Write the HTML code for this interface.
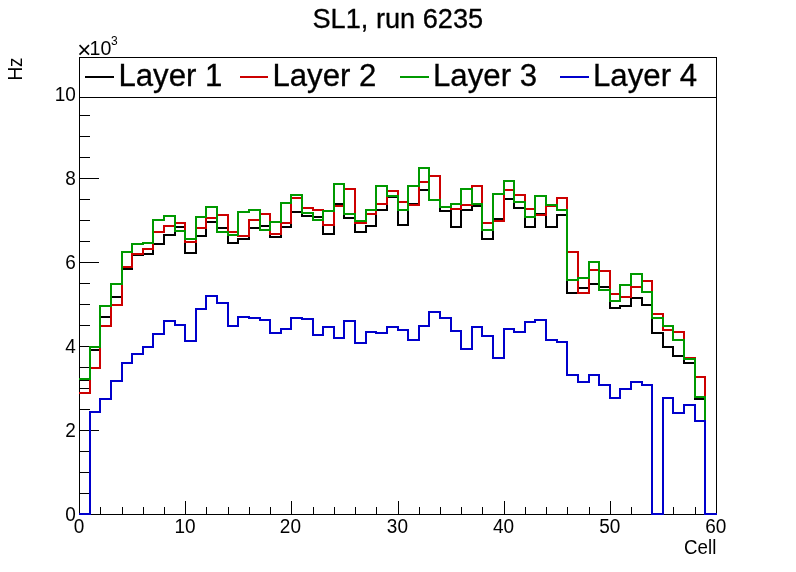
<!DOCTYPE html>
<html lang="en">
<head>
<meta charset="utf-8">
<title>SL1, run 6235</title>
<style>
html,body{margin:0;padding:0;background:#fff;}
body{width:796px;height:572px;overflow:hidden;}
svg{display:block;will-change:transform;}
text{font-family:"Liberation Sans",Arial,Helvetica,sans-serif;fill:#000;}
.h{fill:none;stroke-width:2;stroke-linejoin:miter;stroke-linecap:butt;shape-rendering:crispEdges;}
.ax{stroke:#000;stroke-width:1;fill:none;shape-rendering:crispEdges;}
.lab{font-size:19px;}
.leg{font-size:31.2px;stroke:#000;stroke-width:0.3;}
</style>
</head>
<body>
<svg width="796" height="572" viewBox="0 0 796 572">
<rect x="0" y="0" width="796" height="572" fill="#fff"/>
<rect class="ax" x="79.5" y="57.5" width="637" height="457"/>
<path class="ax" d="M79.5 514.5 V500.5 M100.5 514.5 V506.5 M122.5 514.5 V506.5 M143.5 514.5 V506.5 M164.5 514.5 V506.5 M185.5 514.5 V500.5 M206.5 514.5 V506.5 M228.5 514.5 V506.5 M249.5 514.5 V506.5 M270.5 514.5 V506.5 M291.5 514.5 V500.5 M313.5 514.5 V506.5 M334.5 514.5 V506.5 M355.5 514.5 V506.5 M376.5 514.5 V506.5 M398.5 514.5 V500.5 M419.5 514.5 V506.5 M440.5 514.5 V506.5 M461.5 514.5 V506.5 M482.5 514.5 V506.5 M504.5 514.5 V500.5 M525.5 514.5 V506.5 M546.5 514.5 V506.5 M567.5 514.5 V506.5 M589.5 514.5 V506.5 M610.5 514.5 V500.5 M631.5 514.5 V506.5 M652.5 514.5 V506.5 M673.5 514.5 V506.5 M695.5 514.5 V506.5 M716.5 514.5 V500.5 M79.5 514.5 H98.5 M79.5 493.5 H89.5 M79.5 472.5 H89.5 M79.5 451.5 H89.5 M79.5 430.5 H98.5 M79.5 409.5 H89.5 M79.5 388.5 H89.5 M79.5 367.5 H89.5 M79.5 346.5 H98.5 M79.5 325.5 H89.5 M79.5 304.5 H89.5 M79.5 283.5 H89.5 M79.5 262.5 H98.5 M79.5 241.5 H89.5 M79.5 220.5 H89.5 M79.5 199.5 H89.5 M79.5 178.5 H98.5 M79.5 157.5 H89.5 M79.5 136.5 H89.5 M79.5 115.5 H89.5 M79.5 94.5 H98.5 M79.5 73.5 H89.5"/>
<g class="h">
<path d="M79 380 H90 V350 H100 V317 H111 V297 H122 V269 H132 V255 H143 V254 H153 V244 H164 V235 H175 V227 H185 V253 H196 V236 H206 V222 H217 V228 H228 V243 H238 V239 H249 V228 H260 V226 H270 V237 H281 V227 H291 V212 H302 V216 H313 V217 H323 V234 H334 V204 H344 V218 H355 V232 H366 V226 H376 V210 H387 V197 H398 V225 H408 V204 H419 V190 H429 V200 H440 V211 H451 V227 H461 V210 H472 V206 H482 V239 H493 V219 H504 V199 H514 V208 H525 V227 H535 V214 H546 V227 H557 V215 H567 V293 H578 V288 H589 V284 H599 V287 H610 V308 H620 V306 H631 V298 H642 V305 H652 V333 H663 V347 H673 V356 H684 V363 H695 V399 H705 V514 H716 H717" stroke="#000000"/>
<path d="M79 393 H90 V368 H100 V326 H111 V305 H122 V267 H132 V254 H143 V249 H153 V232 H164 V226 H175 V223 H185 V242 H196 V228 H206 V218 H217 V215 H228 V232 H238 V236 H249 V220 H260 V214 H270 V234 H281 V223 H291 V198 H302 V208 H313 V210 H323 V225 H334 V206 H344 V189 H355 V223 H366 V214 H376 V204 H387 V191 H398 V202 H408 V205 H419 V182 H429 V176 H440 V207 H451 V209 H461 V205 H472 V186 H482 V223 H493 V221 H504 V190 H514 V195 H525 V209 H535 V215 H546 V206 H557 V198 H567 V252 H578 V293 H589 V270 H599 V271 H610 V294 H620 V297 H631 V287 H642 V281 H652 V314 H663 V330 H673 V332 H684 V358 H695 V377 H705 V514 H716 H717" stroke="#cc0000"/>
<path d="M79 379 H90 V347 H100 V306 H111 V284 H122 V252 H132 V244 H143 V243 H153 V220 H164 V216 H175 V231 H185 V239 H196 V217 H206 V207 H217 V232 H228 V235 H238 V212 H249 V210 H260 V230 H270 V222 H281 V203 H291 V195 H302 V213 H313 V220 H323 V211 H334 V184 H344 V214 H355 V221 H366 V210 H376 V186 H387 V196 H398 V210 H408 V186 H419 V168 H429 V200 H440 V207 H451 V204 H461 V189 H472 V204 H482 V230 H493 V194 H504 V181 H514 V202 H525 V217 H535 V196 H546 V205 H557 V210 H567 V280 H578 V278 H589 V262 H599 V290 H610 V301 H620 V285 H631 V274 H642 V292 H652 V318 H663 V326 H673 V340 H684 V359 H695 V397 H705 V514 H716 H717" stroke="#009900"/>
<path d="M79 514 H90 V412 H100 V399 H111 V381 H122 V363 H132 V354 H143 V347 H153 V334 H164 V321 H175 V325 H185 V341 H196 V309 H206 V296 H217 V303 H228 V326 H238 V317 H249 V318 H260 V320 H270 V333 H281 V329 H291 V318 H302 V319 H313 V335 H323 V327 H334 V338 H344 V321 H355 V343 H366 V332 H376 V333 H387 V327 H398 V330 H408 V340 H419 V326 H429 V312 H440 V318 H451 V331 H461 V349 H472 V327 H482 V336 H493 V358 H504 V329 H514 V332 H525 V322 H535 V320 H546 V340 H557 V342 H567 V375 H578 V382 H589 V375 H599 V385 H610 V398 H620 V389 H631 V382 H642 V385 H652 V514 H663 V398 H673 V413 H684 V405 H695 V421 H705 V514 H716 H717" stroke="#0000cc"/>
</g>
<rect x="79.5" y="57.5" width="637" height="40" fill="#fff" stroke="#000" stroke-width="1" shape-rendering="crispEdges"/>
<line x1="85.0" y1="77" x2="114.0" y2="77" stroke="#000000" stroke-width="2"/>
<text class="leg" transform="translate(118.4,85.6) scale(1,1.02)">Layer 1</text>
<line x1="240.0" y1="77" x2="268.0" y2="77" stroke="#cc0000" stroke-width="2"/>
<text class="leg" transform="translate(272.4,85.6) scale(1,1.02)">Layer 2</text>
<line x1="400.0" y1="77" x2="429.0" y2="77" stroke="#009900" stroke-width="2"/>
<text class="leg" transform="translate(433.0,85.6) scale(1,1.02)">Layer 3</text>
<line x1="560.0" y1="77" x2="589.0" y2="77" stroke="#0000cc" stroke-width="2"/>
<text class="leg" transform="translate(593.0,85.6) scale(1,1.02)">Layer 4</text>
<text transform="translate(397.8,27.6) scale(1,1.035)" text-anchor="middle" font-size="27.2" stroke="#000" stroke-width="0.3">SL1, run 6235</text>
<text x="77.3" y="57.6" font-size="24">×</text>
<text x="89.5" y="55.3" font-size="19.6">10</text>
<text x="111" y="44.8" font-size="12">3</text>
<text class="lab" transform="translate(75.8,521.2) scale(1,1.045)" text-anchor="end">0</text>
<text class="lab" transform="translate(75.8,437.2) scale(1,1.045)" text-anchor="end">2</text>
<text class="lab" transform="translate(75.8,353.2) scale(1,1.045)" text-anchor="end">4</text>
<text class="lab" transform="translate(75.8,269.2) scale(1,1.045)" text-anchor="end">6</text>
<text class="lab" transform="translate(75.8,185.2) scale(1,1.045)" text-anchor="end">8</text>
<text class="lab" transform="translate(75.8,101.2) scale(1,1.045)" text-anchor="end">10</text>
<text class="lab" transform="translate(79.0,533.3) scale(1,1.045)" text-anchor="middle">0</text>
<text class="lab" transform="translate(185.1,533.3) scale(1,1.045)" text-anchor="middle">10</text>
<text class="lab" transform="translate(290.4,533.3) scale(1,1.045)" text-anchor="middle">20</text>
<text class="lab" transform="translate(397.4,533.3) scale(1,1.045)" text-anchor="middle">30</text>
<text class="lab" transform="translate(503.5,533.3) scale(1,1.045)" text-anchor="middle">40</text>
<text class="lab" transform="translate(609.7,533.3) scale(1,1.045)" text-anchor="middle">50</text>
<text class="lab" transform="translate(715.8,533.3) scale(1,1.045)" text-anchor="middle">60</text>
<text class="lab" transform="translate(716.3,554.0) scale(0.985,1.055)" text-anchor="end">Cell</text>
<text class="lab" transform="translate(22,57.4) rotate(-90) scale(1.0,1.07)" text-anchor="end">Hz</text>
</svg>
</body>
</html>
